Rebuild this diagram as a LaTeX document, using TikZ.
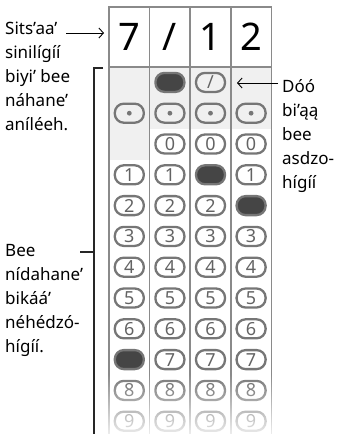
\documentclass[tikz,border=0pt]{standalone}
\usepackage{fontspec}
\setmainfont{Noto Sans}
\usetikzlibrary{fadings,arrows.meta}
\definecolor{gridgray}{HTML}{8A8A8A}
\definecolor{bubgray}{HTML}{767676}
\definecolor{digitgray}{HTML}{636363}
\definecolor{shadegray}{HTML}{F0F0F0}
\definecolor{inkdark}{HTML}{454545}
\begin{document}
\begin{tikzpicture}[x=1pt,y=-1pt,
    bubble/.style={draw=bubgray,line width=2.3pt,rounded corners=9pt,minimum width=29pt,minimum height=19pt,inner sep=0pt,text=digitgray,font=\fontsize{18}{18}\selectfont\bfseries},
    filled/.style={bubble,fill=inkdark},
    note/.style={align=left,inner sep=0pt,anchor=north west,font=\fontsize{17}{24}\selectfont},
    gridline/.style={gridgray,line width=1.6pt},
    pointer/.style={-{Straight Barb[length=4.5pt,width=10pt]},line width=0.9pt}]
    \useasboundingbox (0,0) rectangle (338,434);

    \fill[shadegray] (109,67) rectangle (271.4,129);
    \fill[shadegray] (109,129) rectangle (149.6,160);

    \draw[gridline] (109,7) rectangle (271.4,67);
    \foreach \i in {0,...,4}{
        \draw[gridline] (109+40.6*\i,7) -- (109+40.6*\i,434);
    }

    \foreach \d [count=\i from 0] in {7,/,1,2}{
        \node (h\i) at (129.3+40.6*\i,37) {\fontsize{38}{38}\selectfont\d};
    }

    \node[filled] (s1) at (169.9,82.4) {};
    \node[bubble] (s2) at (210.5,82.4) {/};

    \foreach \i in {0,...,3}{
        \node[bubble] (p\i) at (129.3+40.6*\i,113.2) {};
        \fill[bubgray] (p\i) circle (2.4pt);
    }

    \foreach \c/\first in {0/1,1/0,2/0,3/0}{
        \foreach \n in {\first,...,9}{
            \pgfmathtruncatemacro\key{10*\c+\n}
            \pgfmathtruncatemacro\isfilled{(\key==7)||(\key==21)||(\key==32)}
            \ifnum\isfilled=1
                \node[filled] (d\c\n) at (129.3+40.6*\c,144+30.8*\n) {};
            \else
                \node[bubble] (d\c\n) at (129.3+40.6*\c,144+30.8*\n) {\n};
            \fi
        }
    }

    \fill[white,fill opacity=0.85,path fading=north] (104,374) rectangle (277,434);

    \node[note] (top) at (5,21.5) {Sits’aa’\\sinilígíí\\biyi’ bee\\náhane’\\aníléeh.};
    \node[note] (bottom) at (5,244.5) {Bee\\nídahane’\\bikáá’\\néhédzó-\\hígíí.};
    \node[note] (right) at (282,79) {Dóó\\bi’ąą\\bee\\asdzo-\\hígíí};

    \coordinate (ta) at (66,33);
    \coordinate (tb) at (104,33);
    \coordinate (ra) at (278,83);
    \coordinate (rb) at (237,83);
    \coordinate (k0) at (103,68);
    \coordinate (k1) at (94,68);
    \coordinate (k2) at (94,434);
    \coordinate (k3) at (80,252);
    \coordinate (k4) at (94,252);

    \draw[pointer] (ta) -- (tb);
    \draw[pointer] (ra) -- (rb);
    \draw[line width=1.3pt,black!85] (k0) -- (k1) -- (k2);
    \draw[line width=1.3pt,black!85] (k3) -- (k4);
\end{tikzpicture}
\end{document}
